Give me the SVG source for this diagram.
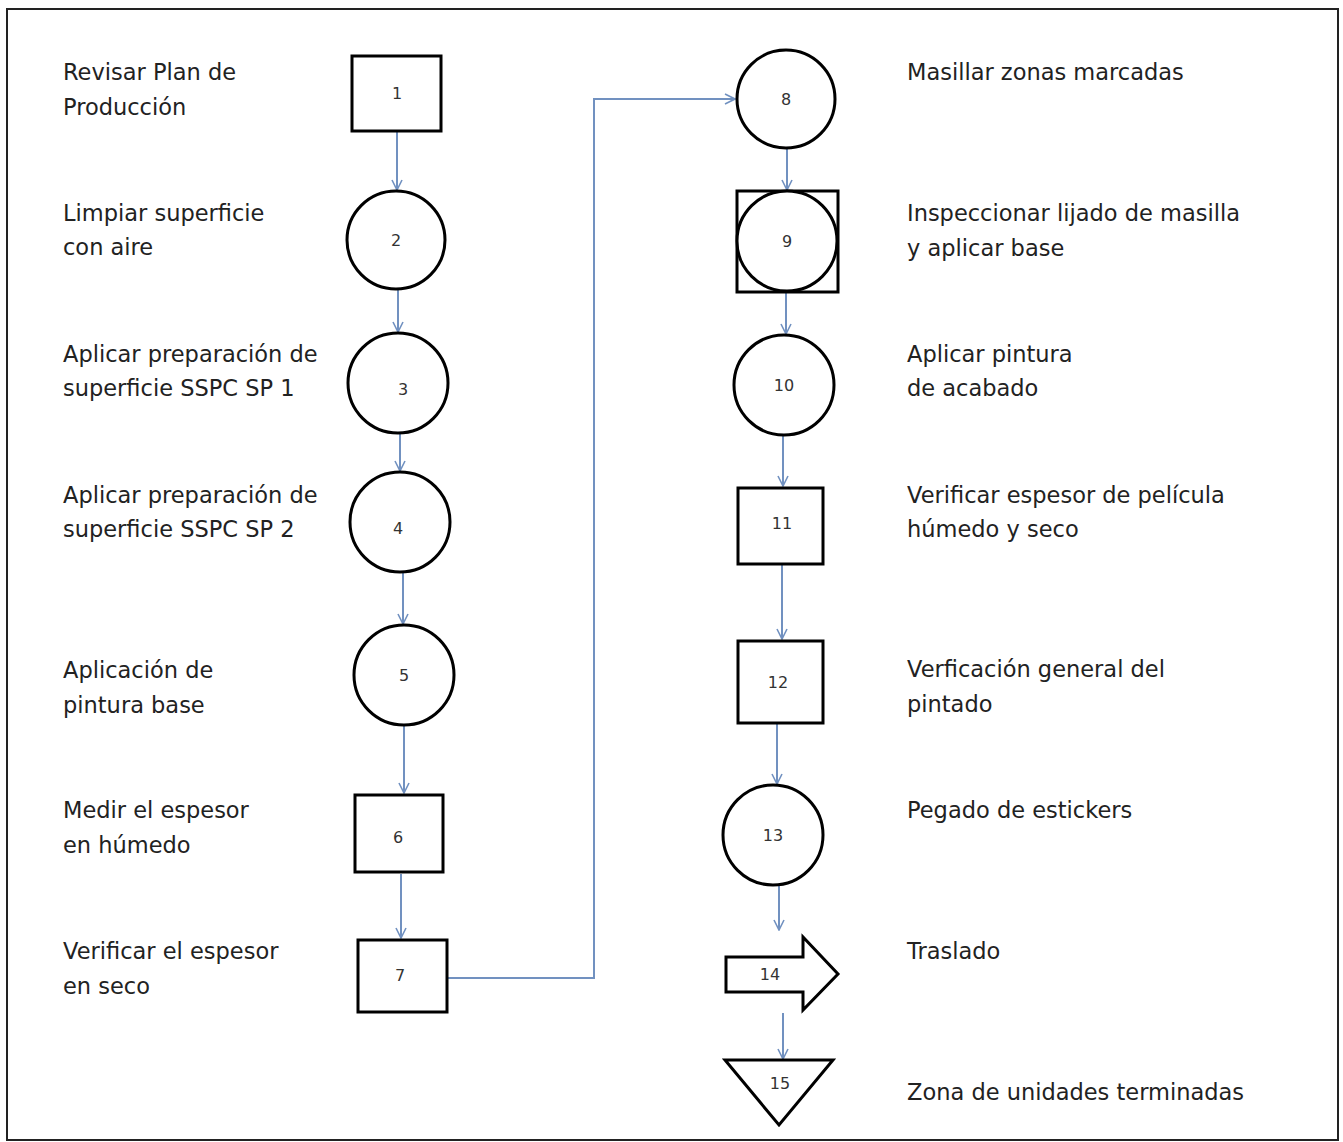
<svg xmlns="http://www.w3.org/2000/svg" width="1343" height="1142" viewBox="0 0 1343 1142">
<style>
.frame{fill:#fff;stroke:#222;stroke-width:2}
.shape{fill:#fff;stroke:#000;stroke-width:3}
.num{font-family:"DejaVu Sans",sans-serif;font-size:16px;fill:#333;text-anchor:middle}
.lbl{font-family:"DejaVu Sans",sans-serif;font-size:22.5px;fill:#222}
.conn{fill:none;stroke:#7191c0;stroke-width:2}
</style>
<defs>
<marker id="ah" viewBox="0 0 12 12" refX="11" refY="6" markerWidth="12" markerHeight="12" markerUnits="userSpaceOnUse" orient="auto">
<path d="M1,1 L11,6 L1,11" fill="none" stroke="#7191c0" stroke-width="1.6"/>
</marker>
</defs>
<rect x="7" y="9" width="1331" height="1131" class="frame"/>
<g id="connectors">
<path class="conn" d="M397,132 V190" marker-end="url(#ah)"/>
<path class="conn" d="M398,289 V332" marker-end="url(#ah)"/>
<path class="conn" d="M400,433 V471" marker-end="url(#ah)"/>
<path class="conn" d="M403,572 V624" marker-end="url(#ah)"/>
<path class="conn" d="M404,725 V793" marker-end="url(#ah)"/>
<path class="conn" d="M401,874 V938" marker-end="url(#ah)"/>
<path class="conn" d="M448,978 H594 V99 H735" marker-end="url(#ah)"/>
<path class="conn" d="M787,148 V190" marker-end="url(#ah)"/>
<path class="conn" d="M786,292 V334" marker-end="url(#ah)"/>
<path class="conn" d="M783,435 V486" marker-end="url(#ah)"/>
<path class="conn" d="M782,565 V639" marker-end="url(#ah)"/>
<path class="conn" d="M777,724 V784" marker-end="url(#ah)"/>
<path class="conn" d="M779,886 V930" marker-end="url(#ah)"/>
<path class="conn" d="M783,1013 V1059" marker-end="url(#ah)"/>
</g>
<g id="node1"><rect class="shape" x="352" y="56" width="89" height="75"/><text class="num" x="397" y="99">1</text>
<text class="lbl" x="63" y="80">Revisar Plan de</text><text class="lbl" x="63" y="115">Producción</text></g>
<g id="node2"><circle class="shape" cx="396" cy="240" r="49"/><text class="num" x="396" y="246">2</text>
<text class="lbl" x="63" y="221">Limpiar superficie</text><text class="lbl" x="63" y="255">con aire</text></g>
<g id="node3"><circle class="shape" cx="398" cy="383" r="50"/><text class="num" x="403" y="395">3</text>
<text class="lbl" x="63" y="362">Aplicar preparación de</text><text class="lbl" x="63" y="396">superficie SSPC SP 1</text></g>
<g id="node4"><circle class="shape" cx="400" cy="522" r="50"/><text class="num" x="398" y="534">4</text>
<text class="lbl" x="63" y="503">Aplicar preparación de</text><text class="lbl" x="63" y="537">superficie SSPC SP 2</text></g>
<g id="node5"><circle class="shape" cx="404" cy="675" r="50"/><text class="num" x="404" y="681">5</text>
<text class="lbl" x="63" y="678">Aplicación de</text><text class="lbl" x="63" y="713">pintura base</text></g>
<g id="node6"><rect class="shape" x="355" y="795" width="88" height="77"/><text class="num" x="398" y="843">6</text>
<text class="lbl" x="63" y="818">Medir el espesor</text><text class="lbl" x="63" y="853">en húmedo</text></g>
<g id="node7"><rect class="shape" x="358" y="940" width="89" height="72"/><text class="num" x="400" y="981">7</text>
<text class="lbl" x="63" y="959">Verificar el espesor</text><text class="lbl" x="63" y="994">en seco</text></g>
<g id="node8"><circle class="shape" cx="786" cy="99" r="49"/><text class="num" x="786" y="105">8</text>
<text class="lbl" x="907" y="80">Masillar zonas marcadas</text></g>
<g id="node9"><rect class="shape" x="737" y="191" width="101" height="101"/><circle class="shape" cx="787" cy="241" r="50"/><text class="num" x="787" y="247">9</text>
<text class="lbl" x="907" y="221">Inspeccionar lijado de masilla</text><text class="lbl" x="907" y="256">y aplicar base</text></g>
<g id="node10"><circle class="shape" cx="784" cy="385" r="50"/><text class="num" x="784" y="391">10</text>
<text class="lbl" x="907" y="362">Aplicar pintura</text><text class="lbl" x="907" y="396">de acabado</text></g>
<g id="node11"><rect class="shape" x="738" y="488" width="85" height="76"/><text class="num" x="782" y="529">11</text>
<text class="lbl" x="907" y="503">Verificar espesor de película</text><text class="lbl" x="907" y="537">húmedo y seco</text></g>
<g id="node12"><rect class="shape" x="738" y="641" width="85" height="82"/><text class="num" x="778" y="688">12</text>
<text class="lbl" x="907" y="677">Verficación general del</text><text class="lbl" x="907" y="712">pintado</text></g>
<g id="node13"><circle class="shape" cx="773" cy="835" r="50"/><text class="num" x="773" y="841">13</text>
<text class="lbl" x="907" y="818">Pegado de estickers</text></g>
<g id="node14"><path class="shape" d="M726,957 H803 V937 L838,974 L803,1010 V992 H726 Z"/><text class="num" x="770" y="980">14</text>
<text class="lbl" x="907" y="959">Traslado</text></g>
<g id="node15"><path class="shape" d="M725,1060 H833 L779,1125 Z"/><text class="num" x="780" y="1089">15</text>
<text class="lbl" x="907" y="1100">Zona de unidades terminadas</text></g>
</svg>
